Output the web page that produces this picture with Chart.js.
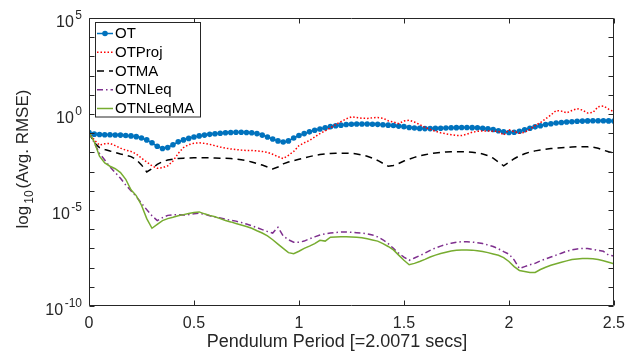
<!DOCTYPE html>
<html>
<head>
<meta charset="utf-8">
<script src="https://cdn.jsdelivr.net/npm/chart.js@4.4.1/dist/chart.umd.min.js"></script>
<style>
  html, body { margin: 0; padding: 0; background: #fff; }
  canvas { display: block; }
</style>
</head>
<body>
<canvas id="rmseChart" width="633" height="354"></canvas>
<script>
/* log10(Avg. RMSE) against pendulum period, five estimators */

const period = [
  0, 0.025, 0.05, 0.075, 0.1, 0.125, 0.15, 0.175, 0.2, 0.225,
  0.25, 0.275, 0.3, 0.325, 0.35, 0.375, 0.4, 0.425, 0.45, 0.475,
  0.5, 0.525, 0.55, 0.575, 0.6, 0.625, 0.65, 0.675, 0.7, 0.725,
  0.75, 0.775, 0.8, 0.825, 0.85, 0.875, 0.9, 0.925, 0.95, 0.975,
  1, 1.025, 1.05, 1.075, 1.1, 1.125, 1.15, 1.175, 1.2, 1.225,
  1.25, 1.275, 1.3, 1.325, 1.35, 1.375, 1.4, 1.425, 1.45, 1.475,
  1.5, 1.525, 1.55, 1.575, 1.6, 1.625, 1.65, 1.675, 1.7, 1.725,
  1.75, 1.775, 1.8, 1.825, 1.85, 1.875, 1.9, 1.925, 1.95, 1.975,
  2, 2.025, 2.05, 2.075, 2.1, 2.125, 2.15, 2.175, 2.2, 2.225,
  2.25, 2.275, 2.3, 2.325, 2.35, 2.375, 2.4, 2.425, 2.45, 2.475,
  2.5
];

// values are log10 of the averaged RMSE
const ot = [
  -0.97, -1.05, -1.07, -1.08, -1.08, -1.09, -1.10, -1.12, -1.14, -1.18,
  -1.25, -1.35, -1.50, -1.68, -1.80, -1.75, -1.60, -1.45, -1.35, -1.27,
  -1.20, -1.14, -1.10, -1.06, -1.03, -1.00, -0.98, -0.96, -0.95, -0.95,
  -0.96, -0.98, -1.02, -1.10, -1.20, -1.30, -1.40, -1.46, -1.40, -1.25,
  -1.12, -1.02, -0.93, -0.85, -0.78, -0.72, -0.66, -0.61, -0.58, -0.55,
  -0.53, -0.52, -0.52, -0.52, -0.53, -0.54, -0.56, -0.58, -0.60, -0.63,
  -0.66, -0.70, -0.73, -0.75, -0.76, -0.76, -0.75, -0.74, -0.73, -0.72,
  -0.71, -0.70, -0.70, -0.71, -0.72, -0.74, -0.77, -0.81, -0.87, -0.93,
  -0.96, -0.95, -0.90, -0.82, -0.74, -0.67, -0.61, -0.55, -0.51, -0.47,
  -0.44, -0.42, -0.40, -0.38, -0.37, -0.36, -0.35, -0.35, -0.35, -0.36,
  -0.37
];
const otProj = [
  -0.97, -1.35, -1.62, -1.55, -1.53, -1.65, -1.78, -1.88, -1.95, -2.08,
  -2.30, -2.50, -2.70, -2.83, -2.80, -2.70, -2.45, -2.05, -1.75, -1.60,
  -1.52, -1.50, -1.53, -1.58, -1.65, -1.72, -1.78, -1.82, -1.85, -1.88,
  -1.90, -1.90, -1.92, -1.95, -2.00, -2.10, -2.22, -2.32, -2.15, -1.95,
  -1.65, -1.50, -1.38, -1.20, -1.02, -0.88, -0.72, -0.55, -0.40, -0.25,
  -0.15, -0.18, -0.22, -0.23, -0.20, -0.18, -0.22, -0.35, -0.42, -0.50,
  -0.36, -0.32, -0.42, -0.55, -0.70, -0.80, -0.90, -0.98, -1.03, -1.08,
  -1.12, -1.12, -1.05, -0.95, -0.90, -0.88, -0.88, -0.90, -0.90, -1.10,
  -0.82, -0.92, -1.00, -0.95, -0.80, -0.60, -0.45, -0.25, -0.05, 0.18,
  0.15, 0.06, 0.18, 0.28, 0.20, 0.05, 0.08, 0.38, 0.42, 0.25,
  0.12
];
const otMA = [
  -0.97, -1.50, -1.75, -1.85, -1.93, -2.00, -2.08, -2.15, -2.22, -2.38,
  -2.65, -3.02, -2.85, -2.62, -2.48, -2.40, -2.35, -2.32, -2.30, -2.29,
  -2.28, -2.28, -2.28, -2.28, -2.29, -2.30, -2.31, -2.32, -2.34, -2.38,
  -2.43, -2.50, -2.58, -2.66, -2.76, -2.86, -2.76, -2.60, -2.50, -2.43,
  -2.36, -2.29, -2.22, -2.16, -2.11, -2.08, -2.06, -2.05, -2.04, -2.04,
  -2.05, -2.08, -2.13, -2.20, -2.30, -2.42, -2.57, -2.72, -2.68, -2.58,
  -2.45, -2.35, -2.26, -2.18, -2.12, -2.07, -2.03, -2.00, -1.98, -1.97,
  -1.96, -1.96, -1.97, -1.99, -2.03, -2.08, -2.17, -2.30, -2.50, -2.70,
  -2.52, -2.33, -2.18, -2.07, -1.98, -1.92, -1.87, -1.83, -1.80, -1.78,
  -1.76, -1.74, -1.72, -1.71, -1.70, -1.71, -1.73, -1.78, -1.88, -1.97,
  -2.03
];
const otNLeq = [
  -0.97, -1.50, -2.05, -2.40, -2.75, -3.05, -3.35, -3.70, -4.00, -4.30,
  -4.65, -4.98, -5.30, -5.55, -5.40, -5.28, -5.25, -5.25, -5.26, -5.24,
  -5.20, -5.17, -5.22, -5.30, -5.36, -5.42, -5.48, -5.53, -5.58, -5.65,
  -5.73, -5.82, -5.92, -6.02, -6.12, -6.20, -5.90, -6.35, -6.55, -6.68,
  -6.68, -6.62, -6.50, -6.40, -6.30, -6.24, -6.20, -6.17, -6.15, -6.15,
  -6.16, -6.18, -6.20, -6.24, -6.30, -6.40, -6.55, -6.75, -7.00, -7.25,
  -7.45, -7.62, -7.50, -7.38, -7.25, -7.10, -6.98, -6.88, -6.80, -6.73,
  -6.68, -6.65, -6.65, -6.67, -6.70, -6.75, -6.82, -6.90, -7.02, -7.17,
  -7.30, -7.60, -8.05, -7.95, -7.85, -7.78, -7.65, -7.55, -7.45, -7.35,
  -7.25, -7.15, -7.08, -7.03, -7.00, -7.00, -7.05, -7.10, -7.15, -7.35,
  -7.40
];
const otNLeqMA = [
  -0.97, -1.45, -2.20, -2.55, -2.72, -2.85, -3.05, -3.40, -3.95, -4.25,
  -4.75, -5.45, -5.95, -5.75, -5.55, -5.45, -5.38, -5.30, -5.24, -5.18,
  -5.13, -5.10, -5.20, -5.28, -5.35, -5.45, -5.55, -5.62, -5.70, -5.78,
  -5.86, -5.95, -6.08, -6.20, -6.35, -6.55, -6.78, -7.00, -7.22, -7.28,
  -7.15, -7.00, -6.88, -6.75, -6.58, -6.62, -6.42, -6.40, -6.39, -6.39,
  -6.40, -6.42, -6.44, -6.50, -6.56, -6.62, -6.75, -6.90, -7.08, -7.35,
  -7.62, -7.85, -7.78, -7.68, -7.57, -7.45, -7.35, -7.27, -7.20, -7.14,
  -7.10, -7.08, -7.08, -7.09, -7.12, -7.16, -7.22, -7.29, -7.36, -7.48,
  -7.68, -7.95, -8.15, -8.20, -8.25, -8.25, -8.10, -7.98, -7.88, -7.80,
  -7.72, -7.65, -7.58, -7.55, -7.52, -7.52, -7.54, -7.58, -7.64, -7.72,
  -7.80
];

const seriesNames = ['OT', 'OTProj', 'OTMA', 'OTNLeq', 'OTNLeqMA'];
const xTickLabels = ['0', '0.5', '1', '1.5', '2', '2.5'];
const yLabelExps = [5, 0, -5, -10];
const xTitle = 'Pendulum Period [=2.0071 secs]';

const FONT = "'Liberation Sans', Arial, Helvetica, sans-serif";
const AXIS_COLOR = '#262626';

const pts = (vals) => vals.map((v, i) => ({ x: period[i], y: v }));

// box, inward ticks on all four sides, 10^n labels, titles
const matlabAxes = {
  id: 'matlabAxes',
  afterDatasetsDraw(chart) {
    const { ctx, chartArea: a, scales: { x, y } } = chart;
    const L = Math.round(a.left) + 0.5, R = Math.round(a.right) - 0.5;
    const T = Math.round(a.top) + 0.5, B = Math.round(a.bottom) - 0.5;
    ctx.save();
    ctx.strokeStyle = AXIS_COLOR;
    ctx.lineWidth = 1;
    ctx.beginPath();
    ctx.rect(L, T, R - L, B - T);
    x.ticks.forEach(t => {
      const px = Math.round(x.getPixelForValue(t.value)) + 0.5;
      ctx.moveTo(px, B); ctx.lineTo(px, B - 5);
      ctx.moveTo(px, T); ctx.lineTo(px, T + 5);
    });
    y.ticks.forEach(t => {
      const py = Math.round(y.getPixelForValue(t.value)) + 0.5;
      ctx.moveTo(L, py); ctx.lineTo(L + 5, py);
      ctx.moveTo(R, py); ctx.lineTo(R - 5, py);
    });
    ctx.stroke();

    // y tick labels as 10 with a raised exponent
    ctx.fillStyle = AXIS_COLOR;
    ctx.textAlign = 'right';
    ctx.textBaseline = 'alphabetic';
    yLabelExps.forEach(e => {
      const py = y.getPixelForValue(e);
      ctx.font = '12px ' + FONT;
      const exp = String(e);
      const ew = ctx.measureText(exp).width;
      ctx.fillText(exp, 82, py + 1);
      ctx.font = '16px ' + FONT;
      ctx.fillText('10', 82 - ew - 1.5, py + 8.5);
    });

    // y title: log_10(Avg. RMSE), rotated
    ctx.save();
    ctx.translate(28, 159);
    ctx.rotate(-Math.PI / 2);
    ctx.textAlign = 'left';
    ctx.font = '17px ' + FONT;
    const w1 = ctx.measureText('log').width;
    const w3 = ctx.measureText('(Avg. RMSE)').width;
    ctx.font = '12px ' + FONT;
    const w2 = ctx.measureText('10').width;
    const total = w1 + 2 + w2 + 2 + w3;
    let cx = -total / 2;
    ctx.font = '17px ' + FONT;
    ctx.fillText('log', cx, 0);
    cx += w1 + 2;
    ctx.font = '12px ' + FONT;
    ctx.fillText('10', cx, 5);
    cx += w2 + 2;
    ctx.font = '17px ' + FONT;
    ctx.fillText('(Avg. RMSE)', cx, 0);
    ctx.restore();

    // x title
    ctx.textAlign = 'center';
    ctx.font = '18px ' + FONT;
    ctx.fillText(xTitle, 337, 347);
    ctx.restore();
  },
  afterDraw(chart) {
    // legend box inside the axes, top left
    const { ctx } = chart;
    ctx.save();
    ctx.fillStyle = '#fff';
    ctx.strokeStyle = AXIS_COLOR;
    ctx.lineWidth = 1;
    ctx.fillRect(95.5, 22.5, 105, 94.5);
    ctx.strokeRect(95.5, 22.5, 105, 94.5);
    chart.data.datasets.forEach((ds, i) => {
      const ry = 33.5 + i * 18.75;
      ctx.strokeStyle = ds.borderColor;
      ctx.lineWidth = ds.borderWidth;
      ctx.setLineDash(ds.borderDash || []);
      ctx.beginPath();
      ctx.moveTo(97, ry);
      ctx.lineTo(113, ry);
      ctx.stroke();
      ctx.setLineDash([]);
      if (ds.pointRadius > 0) {
        ctx.fillStyle = ds.pointBackgroundColor;
        ctx.beginPath();
        ctx.arc(105, ry, ds.pointRadius, 0, Math.PI * 2);
        ctx.fill();
      }
      ctx.fillStyle = '#000';
      ctx.font = '15px ' + FONT;
      ctx.textAlign = 'left';
      ctx.textBaseline = 'middle';
      ctx.fillText(ds.label, 115, ry + 0.5);
    });
    ctx.restore();
  }
};

new Chart(document.getElementById('rmseChart'), {
  type: 'line',
  data: {
    datasets: [
      { label: seriesNames[0], data: pts(ot), borderColor: '#0072BD', borderWidth: 1.5,
        pointRadius: 2.8, pointBackgroundColor: '#0072BD', pointBorderWidth: 0, order: 4 },
      { label: seriesNames[1], data: pts(otProj), borderColor: '#FF0000', borderWidth: 1.5,
        borderDash: [1.5, 2], pointRadius: 0, order: 3 },
      { label: seriesNames[2], data: pts(otMA), borderColor: '#000000', borderWidth: 1.5,
        borderDash: [7, 5], pointRadius: 0, order: 2 },
      { label: seriesNames[3], data: pts(otNLeq), borderColor: '#7E2F8E', borderWidth: 1.5,
        borderDash: [6, 3, 1.5, 3], pointRadius: 0, order: 1 },
      { label: seriesNames[4], data: pts(otNLeqMA), borderColor: '#77AC30', borderWidth: 1.5,
        pointRadius: 0, order: 0 }
    ]
  },
  options: {
    responsive: false,
    animation: false,
    layout: { padding: { top: 18, right: 11, left: 0, bottom: 0 } },
    elements: { line: { tension: 0, fill: false } },
    plugins: { legend: { display: false }, tooltip: { enabled: false } },
    scales: {
      x: {
        type: 'linear', min: 0, max: 2.5,
        grid: { display: false, drawTicks: false },
        border: { display: false },
        ticks: { stepSize: 0.5, autoSkip: false, maxRotation: 0, padding: 8,
                 color: AXIS_COLOR, font: { family: FONT, size: 16 },
                 callback: (v, i) => xTickLabels[i] },
        afterFit: (s) => { s.height = 48; }
      },
      y: {
        type: 'linear', min: -10, max: 5,
        grid: { display: false, drawTicks: false },
        border: { display: false },
        ticks: { stepSize: 1, display: false },
        afterFit: (s) => { s.width = 89; }
      }
    }
  },
  plugins: [matlabAxes]
});
</script>
</body>
</html>
